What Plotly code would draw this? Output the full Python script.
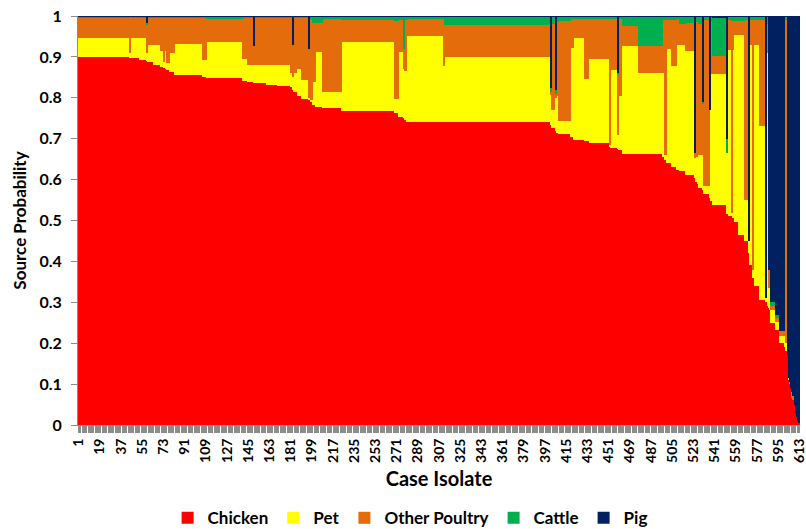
import numpy as np
import plotly.graph_objects as go

# Run-length encoded readings: number of consecutive case isolates sharing the same stacked profile
run_length = [44, 1, 7, 6, 1, 5, 6, 3, 1, 1, 3, 4, 24, 3, 31, 4, 5, 1, 3, 1,
              6, 9, 11, 2, 1, 3, 4, 6, 1, 2, 3, 6, 16, 45, 3, 4, 1, 2, 31, 1,
              90, 1, 3, 1, 2, 10, 3, 9, 4, 17, 1, 6, 1, 3, 14, 20,
              2, 2, 4, 4, 3, 5, 7, 1, 2, 1, 3, 1, 5, 1, 2, 12, 1, 3, 1, 1,
              4, 5, 3, 1, 3, 1, 5, 5, 1, 1, 1, 1, 4, 4, 4,
              1, 1, 1, 1, 1, 1, 1, 1, 1, 1, 1, 1, 1]

chicken_run = [0.900, 0.898, 0.897, 0.893, 0.890, 0.888, 0.880, 0.875, 0.872, 0.870,
               0.868, 0.862, 0.855, 0.852, 0.848, 0.842, 0.838, 0.836, 0.835, 0.835,
               0.835, 0.832, 0.830, 0.826, 0.820, 0.815, 0.805, 0.798, 0.795, 0.790,
               0.783, 0.778, 0.774, 0.768, 0.762, 0.754, 0.750, 0.745, 0.740, 0.740,
               0.740, 0.733, 0.725, 0.720, 0.715, 0.711, 0.705, 0.698, 0.695, 0.690,
               0.680, 0.678, 0.675, 0.672, 0.663, 0.663,
               0.655, 0.648, 0.640, 0.631, 0.623, 0.620, 0.612, 0.604, 0.595, 0.590,
               0.580, 0.575, 0.565, 0.555, 0.548, 0.538, 0.515, 0.512, 0.510, 0.505,
               0.497, 0.464, 0.450, 0.420, 0.390, 0.360, 0.340, 0.305, 0.300, 0.290,
               0.285, 0.280, 0.250, 0.232, 0.200,
               0.190, 0.180, 0.170, 0.110, 0.100, 0.090, 0.065, 0.060, 0.050, 0.030,
               0.020, 0.010, 0.005]

pet_run = [0.047, 0.012, 0.048, 0.052, 0.020, 0.041, 0.049, 0.040, 0.015, 0.045,
           0.017, 0.047, 0.076, 0.040, 0.088, 0.054, 0.042, 0.044, 0.045, 0.070,
           0.045, 0.048, 0.050, 0.034, 0.030, 0.045, 0.065, 0.045, 0.005, 0.005,
           0.056, 0.135, 0.041, 0.168, 0.034, 0.159, 0.120, 0.120, 0.210, 0.137,
           0.159, 0.075, 0.046, 0.080, 0.090, 0.032, 0.217, 0.248, 0.150, 0.204,
           0.005, 0.190, 0.034, 0.132, 0.263, 0.198,
           0.205, 0.012, 0.280, 0.246, 0.307, 0.310, 0.303, 0.050, 0.060, 0.360,
           0.080, 0.200, 0.020, 0.215, 0.310, 0.319, 0.150, 0.406, 0.008, 0.413,
           0.457, 0.490, 0.100, 0.030, 0.540, 0.020, 0.590, 0.426, 0.010, 0.620,
           0.050, 0.600, 0.030, 0.020, 0.018,
           0.800, 0.020, 0.000, 0.005, 0.000, 0.000, 0.000, 0.000, 0.000, 0.000,
           0.000, 0.000, 0.000]

other_poultry_run = [0.050, 0.088, 0.052, 0.052, 0.070, 0.068, 0.068, 0.082, 0.110, 0.082,
                     0.112, 0.088, 0.066, 0.105, 0.056, 0.101, 0.117, 0.047, 0.117, 0.092,
                     0.117, 0.117, 0.117, 0.137, 0.080, 0.137, 0.127, 0.154, 0.120, 0.200,
                     0.145, 0.070, 0.180, 0.054, 0.192, 0.077, 0.049, 0.125, 0.042, 0.115,
                     0.079, 0.005, 0.210, 0.010, 0.180, 0.245, 0.070, 0.046, 0.147, 0.098,
                     0.307, 0.124, 0.148, 0.188, 0.050, 0.065,
                     0.130, 0.330, 0.070, 0.114, 0.062, 0.050, 0.067, 0.011, 0.330, 0.038,
                     0.320, 0.010, 0.405, 0.000, 0.131, 0.045, 0.000, 0.072, 0.470, 0.070,
                     0.035, 0.035, 0.440, 0.000, 0.060, 0.610, 0.060, 0.259, 0.000, 0.070,
                     0.045, 0.100, 0.010, 0.010, 0.012,
                     0.005, 0.790, 0.000, 0.000, 0.005, 0.000, 0.015, 0.010, 0.000, 0.000,
                     0.000, 0.000, 0.000]

cattle_run = [0.002, 0.001, 0.002, 0.002, 0.004, 0.002, 0.002, 0.002, 0.002, 0.002,
              0.002, 0.002, 0.002, 0.002, 0.007, 0.002, 0.002, 0.000, 0.002, 0.002,
              0.002, 0.002, 0.002, 0.002, 0.000, 0.002, 0.002, 0.002, 0.000, 0.004,
              0.015, 0.016, 0.004, 0.009, 0.011, 0.009, 0.080, 0.009, 0.007, 0.007,
              0.021, 0.010, 0.018, 0.010, 0.014, 0.010, 0.007, 0.007, 0.007, 0.007,
              0.007, 0.007, 0.003, 0.007, 0.023, 0.073,
              0.009, 0.009, 0.009, 0.008, 0.007, 0.019, 0.017, 0.000, 0.013, 0.010,
              0.018, 0.005, 0.009, 0.000, 0.010, 0.095, 0.035, 0.008, 0.010, 0.010,
              0.010, 0.010, 0.008, 0.000, 0.008, 0.008, 0.008, 0.008, 0.000, 0.018,
              0.000, 0.018, 0.010, 0.008, 0.000,
              0.003, 0.008, 0.000, 0.000, 0.000, 0.000, 0.000, 0.000, 0.000, 0.000,
              0.000, 0.000, 0.000]

pig_run = [0.001, 0.001, 0.001, 0.001, 0.016, 0.001, 0.001, 0.001, 0.001, 0.001,
           0.001, 0.001, 0.001, 0.001, 0.001, 0.001, 0.001, 0.073, 0.001, 0.001,
           0.001, 0.001, 0.001, 0.001, 0.070, 0.001, 0.001, 0.001, 0.080, 0.001,
           0.001, 0.001, 0.001, 0.001, 0.001, 0.001, 0.001, 0.001, 0.001, 0.001,
           0.001, 0.177, 0.001, 0.180, 0.001, 0.002, 0.001, 0.001, 0.001, 0.001,
           0.001, 0.001, 0.140, 0.001, 0.001, 0.001,
           0.001, 0.001, 0.001, 0.001, 0.001, 0.001, 0.001, 0.335, 0.002, 0.002,
           0.002, 0.210, 0.001, 0.230, 0.001, 0.003, 0.300, 0.002, 0.002, 0.002,
           0.001, 0.001, 0.002, 0.550, 0.002, 0.002, 0.002, 0.002, 0.690, 0.002,
           0.620, 0.002, 0.700, 0.730, 0.770,
           0.002, 0.002, 0.830, 0.885, 0.895, 0.910, 0.920, 0.930, 0.950, 0.970,
           0.980, 0.990, 0.995]

tick_labels = ["1", "19", "37", "55", "73", "91", "109", "127", "145", "163", "181",
               "199", "217", "235", "253", "271", "289", "307", "325", "343", "361",
               "379", "397", "415", "433", "451", "469", "487", "505", "523", "541",
               "559", "577", "595", "613"]
y_tick_values = [0, 0.1, 0.2, 0.3, 0.4, 0.5, 0.6, 0.7, 0.8, 0.9, 1]
y_tick_labels = ["0", "0.1", "0.2", "0.3", "0.4", "0.5", "0.6", "0.7", "0.8", "0.9", "1"]

n_cases = sum(run_length)
assert n_cases == 613, n_cases
for arr in (chicken_run, pet_run, other_poultry_run, cattle_run, pig_run):
    assert len(arr) == len(run_length), (len(arr), len(run_length))
case_isolate = np.arange(1, n_cases + 1)

series = [
    ("Chicken", np.repeat(chicken_run, run_length), "#FF0000"),
    ("Pet", np.repeat(pet_run, run_length), "#FFFF00"),
    ("Other Poultry", np.repeat(other_poultry_run, run_length), "#E46C0A"),
    ("Cattle", np.repeat(cattle_run, run_length), "#00B050"),
    ("Pig", np.repeat(pig_run, run_length), "#002060"),
]

fig = go.Figure()
for name, vals, col in series:
    fig.add_trace(go.Bar(x=case_isolate, y=vals, name=name,
                         marker=dict(color=col, line=dict(width=0))))

tick_pos = [int(t) for t in tick_labels]
all_ticks = list(case_isolate)
all_text = [str(v) if v in tick_pos else "" for v in all_ticks]

FONT = "Lato, Carlito, Calibri, Open Sans, sans-serif"
fig.update_layout(
    width=806, height=529,
    barmode="stack", bargap=0,
    paper_bgcolor="white", plot_bgcolor="white",
    margin=dict(l=78, r=6, t=16, b=104, autoexpand=False),
    font=dict(family=FONT, color="#000000", size=14, weight="bold"),
    showlegend=True,
    legend=dict(orientation="h", xref="paper", yref="paper",
                x=0.46, xanchor="center", y=-0.228, yanchor="middle",
                traceorder="normal", font=dict(size=17, family=FONT, weight="bold"),
                itemwidth=30),
    xaxis=dict(range=[0.5, n_cases + 0.5], tickmode="array",
               tickvals=all_ticks, ticktext=all_text, tickangle=-90,
               ticks="outside", ticklen=7, tickcolor="#8c8c8c", tickwidth=1,
               ticklabeloverflow="allow",
               tickfont=dict(size=14, family=FONT, weight="bold"),
               showgrid=False, zeroline=False,
               showline=True, linecolor="#8c8c8c",
               title=dict(text="Case Isolate", standoff=10,
                          font=dict(size=20, family=FONT, weight="bold"))),
    yaxis=dict(range=[0, 1], tickmode="array", tickvals=y_tick_values,
               ticktext=y_tick_labels, ticks="outside", ticklen=6,
               tickcolor="#8c8c8c", showgrid=False, zeroline=False,
               showline=True, linecolor="#8c8c8c", ticklabelstandoff=6,
               tickfont=dict(size=16, family=FONT, weight="bold"),
               title=dict(text="Source Probability", standoff=8,
                          font=dict(size=17, family=FONT, weight="bold"))),
)

fig.write_html("out.html", config={"displayModeBar": False},
               post_script="document.body.style.margin='0';document.body.style.padding='0';")
